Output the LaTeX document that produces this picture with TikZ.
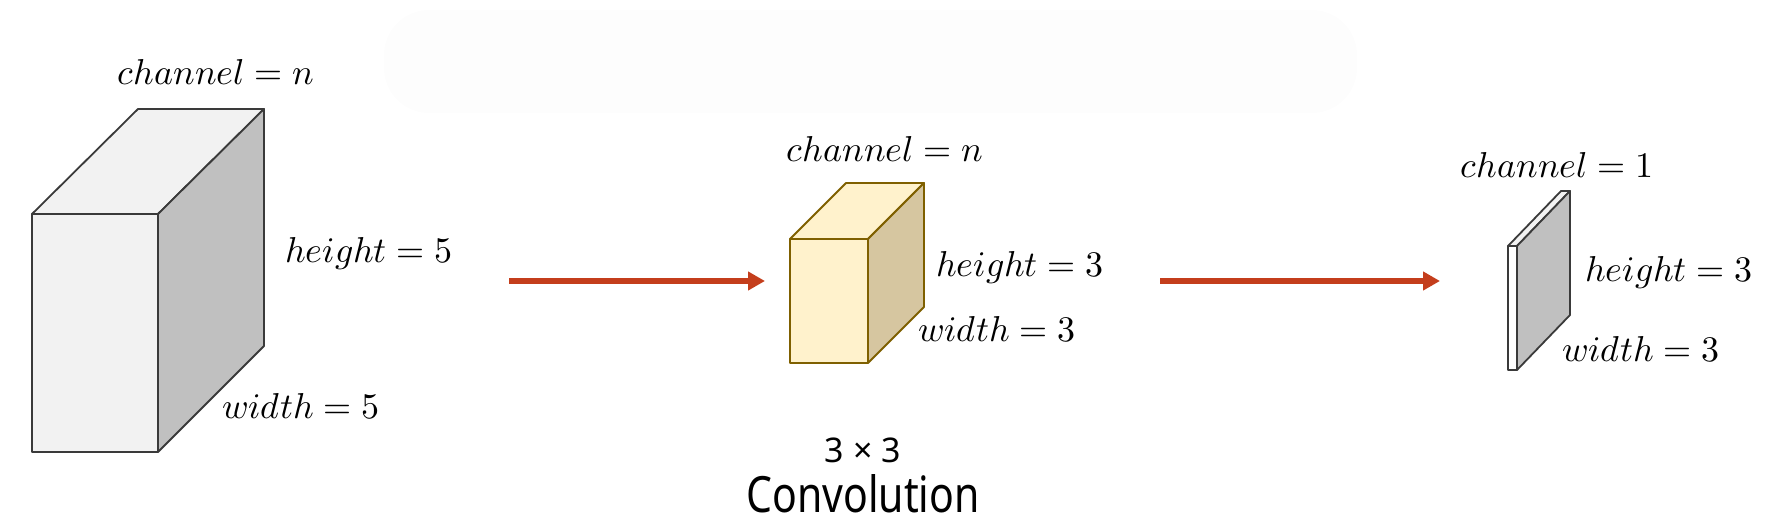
\documentclass[tikz,border=0pt]{standalone}
\usepackage{fontspec}
\usepackage{unicode-math}
\setsansfont{Noto Sans}
\usetikzlibrary{arrows.meta}
\definecolor{boxline}{HTML}{3A3A3A}
\definecolor{lightface}{HTML}{F2F2F2}
\definecolor{grayside}{HTML}{C0C0C0}
\definecolor{goldface}{HTML}{FFF2CC}
\definecolor{goldtop}{HTML}{FFF2CC}
\definecolor{goldside}{HTML}{D6C6A0}
\definecolor{goldline}{HTML}{7F6000}
\definecolor{arrowred}{HTML}{C43E1C}
\definecolor{blobgray}{HTML}{FDFDFD}
\begin{document}
\begin{tikzpicture}[x=1pt,y=-1pt,
  lbl/.style={inner sep=0pt, anchor=base west, font=\fontsize{36}{40}\selectfont},
  grayface/.style={line width=1.8pt, draw=boxline, line join=round},
  goldfacestyle/.style={line width=1.8pt, draw=goldline, line join=round},
  conn/.style={arrowred, line width=5.5pt, -{Triangle[length=17pt,width=18pt]}}]
\useasboundingbox (0,0) rectangle (1773,529);
\fill[blobgray, rounded corners=45pt] (384,10) rectangle (1357,113);

% big cube (5x5xn)
\draw[grayface, fill=lightface] (32,214) -- (138,109) -- (264,109) -- (158,214) -- cycle;
\draw[grayface, fill=grayside] (158,214) -- (264,109) -- (264,346) -- (158,452) -- cycle;
\draw[grayface, fill=lightface] (32,214) rectangle (158,452);

% medium cube (3x3xn)
\draw[goldfacestyle, fill=goldtop] (790,239) -- (846,183) -- (924,183) -- (868,239) -- cycle;
\draw[goldfacestyle, fill=goldside] (868,239) -- (924,183) -- (924,307) -- (868,363) -- cycle;
\draw[goldfacestyle, fill=goldface] (790,239) rectangle (868,363);

% thin slab (3x3x1)
\draw[grayface, fill=lightface] (1508,246) -- (1561,191) -- (1570,191) -- (1517,246) -- cycle;
\draw[grayface, fill=grayside] (1517,246) -- (1570,191) -- (1570,315) -- (1517,370) -- cycle;
\draw[grayface, fill=white] (1508,246) rectangle (1517,370);

% labels
\node[lbl] (c1) at (117,85) {$channel = n$};
\node[lbl] (h1) at (285,263) {$height = 5$};
\node[lbl] (w1) at (222,418) {$width = 5$};

\node[lbl] (c2) at (786,162) {$channel = n$};
\node[lbl] (h2) at (936,277) {$height = 3$};
\node[lbl] (w2) at (918,342) {$width = 3$};

\node[lbl] (c3) at (1460,178) {$channel = 1$};
\node[lbl] (h3) at (1585,282) {$height = 3$};
\node[lbl] (w3) at (1562,362) {$width = 3$};

\node[inner sep=0pt, anchor=base, font=\sffamily\fontsize{34}{38}\selectfont] (k) at (863,462) {3 × 3};
\node[inner sep=0pt, anchor=base, font=\sffamily\fontsize{50}{56}\selectfont] (conv) at (863,512) {\scalebox{0.82}[1]{Convolution}};

% arrows
\coordinate (a1s) at (509,281);
\coordinate (a1e) at (765,281);
\coordinate (a2s) at (1160,281);
\coordinate (a2e) at (1440,281);
\draw[conn] (a1s) -- (a1e);
\draw[conn] (a2s) -- (a2e);
\end{tikzpicture}
\end{document}
